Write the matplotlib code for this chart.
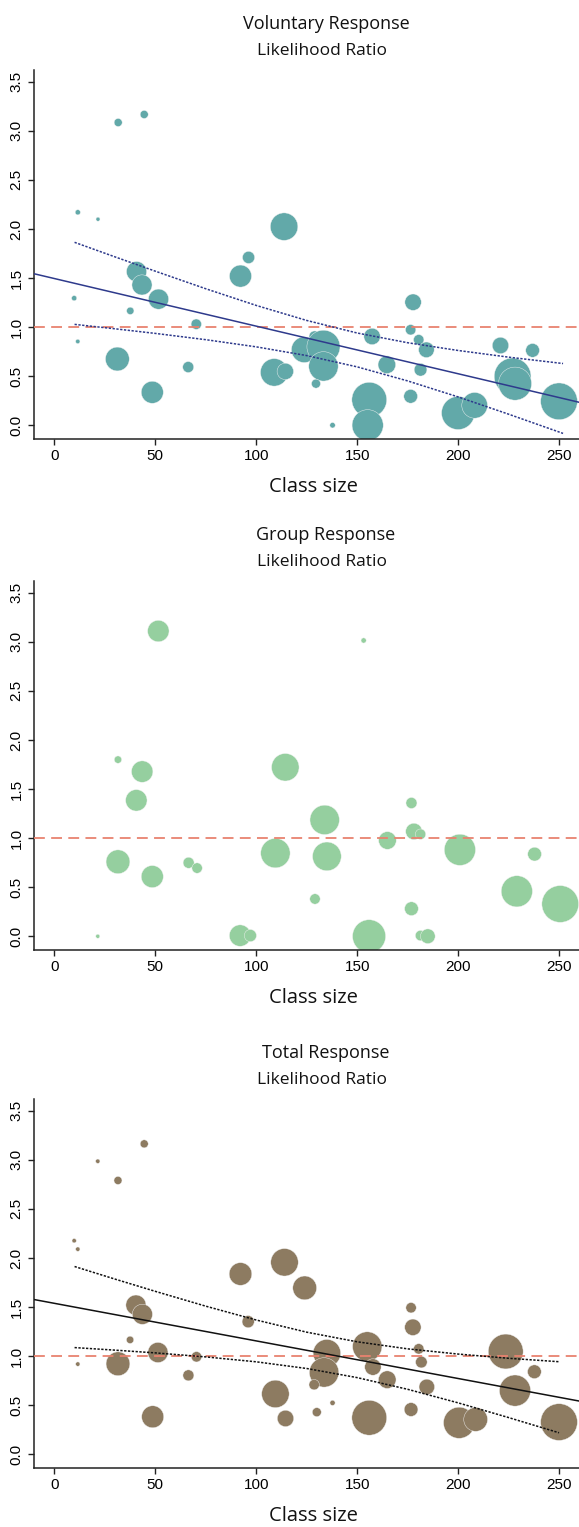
import matplotlib
matplotlib.use('Agg')
import matplotlib.pyplot as plt

# ---- data ----
# voluntary response: class size, likelihood ratio, weight (marker area)
vol_x = [9.8, 11.6, 11.6, 21.6, 31.6, 44.5, 37.6, 40.7, 43.4, 51.6, 31.2, 70.3, 66.3, 48.5,
         96.2, 92.2, 113.8, 108.9, 114.4, 123.8, 128.9, 133.3, 133.3, 129.6, 137.8, 157.4,
         164.7, 156.0, 155.2, 177.7, 176.5, 180.5, 184.3, 181.4, 176.5, 200.0, 208.2, 221.0,
         236.9, 227.0, 228.2, 250.0]
vol_y = [1.295, 0.854, 2.17, 2.10, 3.085, 3.167, 1.166, 1.566, 1.43, 1.285, 0.675, 1.03, 0.593, 0.336,
         1.71, 1.52, 2.024, 0.539, 0.549, 0.77, 0.905, 0.80, 0.60, 0.424, 0.0, 0.905,
         0.617, 0.26, 0.0, 1.254, 0.973, 0.871, 0.769, 0.566, 0.295, 0.125, 0.203, 0.813,
         0.763, 0.498, 0.424, 0.244]
vol_w = [2, 1.4, 2, 1.2, 4.8, 4.8, 4, 30, 30, 30, 42, 8, 9, 36,
         11, 36, 56, 56, 20, 49, 9, 81, 64, 6, 2.2, 20,
         23, 90, 72, 20, 8, 8, 18, 12, 14, 81, 49, 20,
         14, 100, 81, 100]

# group response
grp_x = [51.5, 153.2, 31.5, 43.5, 40.6, 114.4, 176.9, 133.9, 178.1, 181.4, 165.0, 200.9,
         109.5, 135.0, 237.9, 31.5, 66.5, 70.7, 48.5, 129.1, 229.1, 250.6, 176.9, 21.5,
         92.0, 97.1, 155.9, 181.4, 185.0]
grp_y = [3.11, 3.014, 1.80, 1.678, 1.385, 1.722, 1.358, 1.186, 1.068, 1.04, 0.976, 0.881,
         0.847, 0.814, 0.837, 0.759, 0.749, 0.695, 0.608, 0.38, 0.458, 0.329, 0.281, 0.0,
         0.007, 0.007, 0.0, 0.007, 0.0]
grp_w = [34, 2, 4, 34, 34, 56, 9, 64, 20, 8, 23, 72,
         64, 61, 14, 42, 9, 8, 36, 8, 72, 100, 14, 1.2,
         34, 11, 81, 8, 16]

# total response
tot_x = [9.8, 11.6, 21.5, 31.5, 44.5, 92.2, 114.0, 124.0, 40.4, 43.6, 51.3, 31.5, 37.5, 11.6,
         70.4, 66.4, 48.7, 96.0, 109.5, 114.5, 135.0, 133.6, 128.7, 130.0, 137.8, 155.0,
         157.8, 164.9, 156.0, 176.7, 177.6, 180.5, 181.8, 184.5, 176.7, 200.5, 208.7, 223.6,
         228.2, 237.8, 250.0]
tot_y = [2.176, 2.09, 2.986, 2.79, 3.163, 1.837, 1.956, 1.695, 1.52, 1.426, 1.037, 0.922, 1.166, 0.919,
         0.993, 0.804, 0.382, 1.351, 0.615, 0.365, 1.03, 0.834, 0.709, 0.429, 0.524, 1.098,
         0.889, 0.76, 0.372, 1.493, 1.294, 1.074, 0.939, 0.686, 0.456, 0.321, 0.355, 1.047,
         0.649, 0.841, 0.328]
tot_w = [1.4, 1.4, 1.4, 4.8, 4.8, 38, 56, 42, 30, 30, 30, 42, 4, 1.4,
         8, 9, 36, 11, 56, 20, 56, 64, 8, 6, 2, 64,
         20, 23, 90, 8, 20, 8, 10, 18, 14, 72, 42, 90,
         72, 14, 100]

# fitted lines (intercept, slope) and confidence band readings
vol_fit = (1.495, -0.00485)
vol_band_x = [10, 30, 50, 75, 100, 125, 150, 175, 200, 225, 252]
vol_band_hi = [1.864, 1.716, 1.570, 1.391, 1.221, 1.068, 0.940, 0.841, 0.762, 0.694, 0.629]
vol_band_lo = [1.028, 0.983, 0.936, 0.872, 0.799, 0.710, 0.595, 0.452, 0.289, 0.113, -0.083]

tot_fit = (1.538, -0.00383)
tot_band_x = [10, 30, 50, 75, 100, 125, 150, 175, 200, 225, 250]
tot_band_hi = [1.913, 1.785, 1.660, 1.509, 1.368, 1.244, 1.146, 1.074, 1.021, 0.978, 0.943]
tot_band_lo = [1.087, 1.061, 1.033, 0.992, 0.942, 0.874, 0.781, 0.662, 0.524, 0.374, 0.219]

titles = ['Voluntary Response', 'Group Response', 'Total Response']
subtitle = 'Likelihood Ratio'
xlab = 'Class size'
xticks = [0, 50, 100, 150, 200, 250]
yticks = [0.0, 0.5, 1.0, 1.5, 2.0, 2.5, 3.0, 3.5]

W, H = 579, 1527
fig = plt.figure(figsize=(W / 100, H / 100), dpi=100)

title_font = 'Open Sans'
tick_font = 'Liberation Sans'


def panel(bottom_px, x, y, w, color, fit=None, bx=None, hi=None, lo=None, lcolor=None, title=''):
    top_px = bottom_px - 369
    ax = fig.add_axes([34 / W, 1 - bottom_px / H, (W - 34) / W, 369 / H])
    ax.scatter(x, y, s=[v * 7 for v in w], c=color, edgecolors='#f4f4f4', linewidths=0.3, zorder=2)
    ax.axhline(1.0, color='#E8826F', lw=1.3, ls=(0, (6, 3.5)), zorder=3)
    if fit is not None:
        xs = [-10.1, 259.9]
        ax.plot(xs, [fit[0] + fit[1] * v for v in xs], color=lcolor, lw=1.1, zorder=4)
        ax.plot(bx, hi, color=lcolor, lw=1.1, ls=(0, (1.5, 1.0)), zorder=4)
        ax.plot(bx, lo, color=lcolor, lw=1.1, ls=(0, (1.5, 1.0)), zorder=4)
    ax.set_xlim(-10.1, 259.9)
    ax.set_ylim(-0.14, 3.62)
    ax.set_xticks(xticks)
    ax.set_yticks(yticks)
    ax.set_yticklabels(['%.1f' % v for v in yticks])
    for s in ['top', 'right']:
        ax.spines[s].set_visible(False)
    for s in ['left', 'bottom']:
        ax.spines[s].set_linewidth(1.1)
        ax.spines[s].set_color('#222222')
    ax.tick_params(length=4.5, width=1.0, color='#222222', labelsize=11, pad=3)
    for lab in ax.get_yticklabels():
        lab.set_rotation(90)
        lab.set_va('center')
        lab.set_family(tick_font)
    for lab in ax.get_xticklabels():
        lab.set_family(tick_font)
    fig.text(326 / W, 1 - (top_px - 46) / H, title, ha='center', va='center',
             fontsize=13, family=title_font, color='#111111')
    fig.text(322 / W, 1 - (top_px - 19) / H, subtitle, ha='center', va='center',
             fontsize=12.5, family=title_font, color='#111111')
    fig.text(313 / W, 1 - (bottom_px + 48) / H, xlab, ha='center', va='center',
             fontsize=14.5, family=title_font, color='#111111')
    return ax


panel(439, vol_x, vol_y, vol_w, '#62A9A9', vol_fit, vol_band_x, vol_band_hi, vol_band_lo,
      '#2E3A8C', titles[0])
panel(950, grp_x, grp_y, grp_w, '#95CF9F', title=titles[1])
panel(1468, tot_x, tot_y, tot_w, '#8D7B61', tot_fit, tot_band_x, tot_band_hi, tot_band_lo,
      '#111111', titles[2])

fig.savefig('out.png', dpi=100)
